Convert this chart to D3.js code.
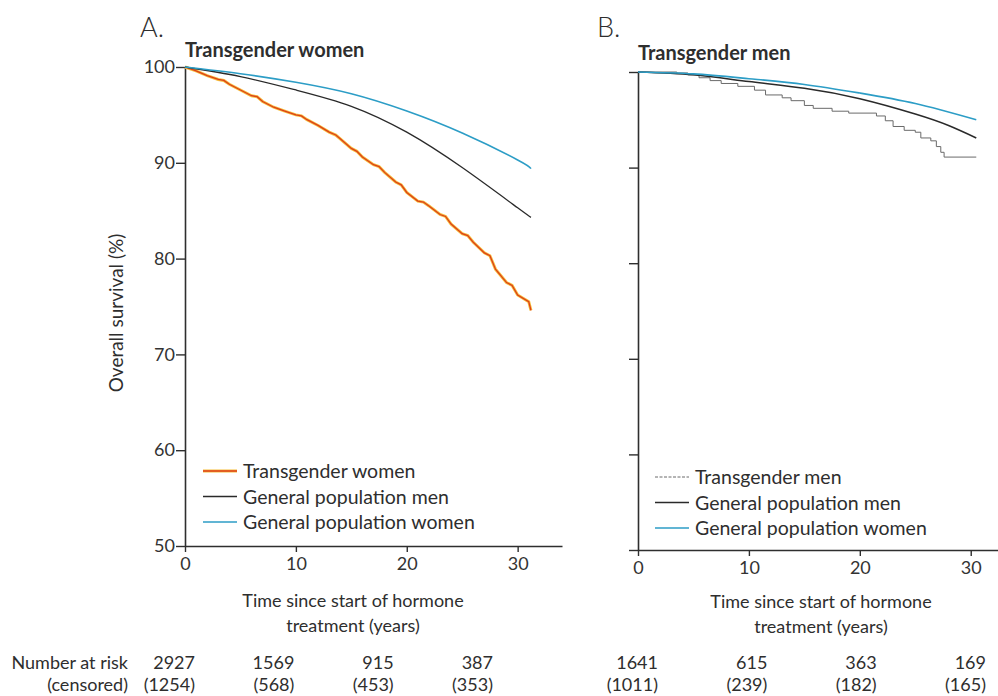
<!DOCTYPE html>
<html>
<head>
<meta charset="utf-8">
<script src="https://cdn.jsdelivr.net/npm/d3@7"></script>
<style>
  body { margin: 0; background: #fff; }
  svg { display: block; font-family: Lato, "Open Sans", sans-serif; }
</style>
</head>
<body>
<svg id="chart" width="998" height="696"></svg>
<script>
var xTicks = [0, 10, 20, 30];
var yTicks = [50, 60, 70, 80, 90, 100];

// panel A: overall survival (%) by years since start of hormone treatment
var transWomen = [[0, 100], [1, 99.6], [2, 99.1], [3, 98.7], [3.5, 98.6], [4, 98.2], [5, 97.6],
  [6, 97.0], [6.5, 96.9], [7, 96.4], [8, 95.8], [9, 95.4], [10, 95.0], [10.5, 94.9], [11, 94.5],
  [12, 93.9], [13, 93.2], [13.6, 92.9], [14, 92.5], [15, 91.5], [15.5, 91.2], [16, 90.6],
  [17, 89.8], [17.5, 89.6], [18, 89.0], [19, 88.0], [19.5, 87.7], [20, 86.9], [21, 86.0],
  [21.5, 85.9], [22, 85.5], [23, 84.6], [23.5, 84.4], [24, 83.6], [25, 82.6], [25.5, 82.4],
  [26, 81.7], [27, 80.6], [27.5, 80.3], [28, 78.9], [29, 77.5], [29.5, 77.2], [30, 76.2],
  [31, 75.5], [31.2, 74.6]];
var genMenA = [[0, 100], [5, 99.0], [10, 97.6], [15, 95.9], [20, 93.2], [25, 89.5], [30, 85.3],
  [31.2, 84.3]];
var genWomenA = [[0, 100], [5, 99.3], [10, 98.4], [15, 97.2], [20, 95.4], [25, 93.1], [30, 90.3],
  [31.2, 89.4]];

// panel B
var transMen = [[0, 100], [3.5, 99.9], [4.5, 99.7], [5.5, 99.4], [6.5, 99.1], [7.5, 98.8],
  [9, 98.5], [10.5, 98.1], [11.5, 97.6], [13, 97.3], [13.8, 97.0], [15, 96.5], [15.8, 96.2],
  [17.5, 95.9], [19, 95.7], [21.5, 95.4], [22.3, 94.9], [23, 94.3], [24, 93.9], [25, 93.7],
  [25.5, 93.1], [26.4, 92.8], [26.9, 92.2], [27.3, 91.6], [27.6, 91.1], [30.5, 91.1]];
var genMenB = [[0, 100], [5, 99.7], [10, 99.0], [15, 98.3], [20, 97.2], [25, 95.6], [28, 94.4],
  [30.5, 93.1]];
var genWomenB = [[0, 100], [5, 99.8], [10, 99.3], [15, 98.7], [20, 97.8], [25, 96.7],
  [30.5, 95.0]];

var riskA = [2927, 1569, 915, 387];
var censoredA = [1254, 568, 453, 353];
var riskB = [1641, 615, 363, 169];
var censoredB = [1011, 239, 182, 165];

var legendA = ['Transgender women', 'General population men', 'General population women'];
var legendB = ['Transgender men', 'General population men', 'General population women'];

var ink = '#2e2e2e';
var svg = d3.select('#chart');

function panel(p) {
  var x = d3.scaleLinear().domain([0, p.xMax]).range([p.left, p.right]);
  var y = d3.scaleLinear().domain([50, 100]).range([p.bottom, p.top]);
  var g = svg.append('g');

  // panel letter and title
  g.append('text').attr('x', p.letterX).attr('y', 37)
    .attr('font-size', 27).attr('font-weight', 300).attr('fill', ink).text(p.letter);
  g.append('text').attr('x', p.left).attr('y', p.titleY)
    .attr('font-size', 20).attr('font-weight', 700).attr('fill', ink).text(p.title);

  // axes
  var yAxis = d3.axisLeft(y).tickValues(yTicks).tickSize(9).tickPadding(1).tickSizeOuter(0);
  if (!p.yLabels) yAxis.tickFormat('');
  var ya = g.append('g').attr('transform', 'translate(' + p.left + ',0)').call(yAxis);

  var xAxis = d3.axisBottom(x).tickValues(xTicks).tickSize(6).tickPadding(5).tickSizeOuter(0);
  var xa = g.append('g').attr('transform', 'translate(0,' + p.bottom + ')').call(xAxis);

  [ya, xa].forEach(function(a) {
    a.select('.domain').attr('stroke', ink).attr('stroke-width', 1.6);
    a.selectAll('.tick line').attr('stroke', ink).attr('stroke-width', 1.4);
    a.selectAll('.tick text').attr('font-size', 18).attr('fill', '#333')
      .attr('font-family', 'Lato, "Open Sans", sans-serif');
  });

  // survival curves
  p.series.forEach(function(s) {
    var line = d3.line()
      .x(function(d) { return x(d[0]); })
      .y(function(d) { return y(d[1]); })
      .curve(s.step ? d3.curveStepAfter : (s.smooth ? d3.curveNatural : d3.curveLinear));
    if (s.halo) {
      g.append('path').datum(s.data).attr('d', line).attr('fill', 'none')
        .attr('stroke', s.halo).attr('stroke-width', 3);
    }
    g.append('path').datum(s.data).attr('d', line).attr('fill', 'none')
      .attr('stroke', s.color).attr('stroke-width', s.width);
  });

  // legend
  var lg = g.append('g').selectAll('g').data(p.series).enter().append('g')
    .attr('transform', function(d, i) { return 'translate(' + p.legendX + ',' + (p.legendY + i * 25.5) + ')'; });
  lg.filter(function(d) { return d.halo; }).append('line')
    .attr('x1', 0).attr('x2', 34).attr('stroke', function(d) { return d.halo; }).attr('stroke-width', 3);
  lg.append('line').attr('x1', 0).attr('x2', 34)
    .attr('stroke', function(d) { return d.color; })
    .attr('stroke-width', function(d) { return d.width; })
    .attr('stroke-dasharray', function(d) { return d.step ? '3,1.5' : null; });
  lg.append('text').attr('x', 40).attr('y', 7)
    .attr('font-size', 19.5).attr('fill', ink)
    .text(function(d, i) { return p.legend[i]; });

  // x axis title
  var xt = g.append('text').attr('text-anchor', 'middle').attr('font-size', 18).attr('fill', ink);
  xt.append('tspan').attr('x', p.xTitleX).attr('y', p.xTitleY).text('Time since start of hormone');
  xt.append('tspan').attr('x', p.xTitleX).attr('y', p.xTitleY + 25).text('treatment (years)');

  // number at risk table
  var rx = d3.scalePoint().domain(d3.range(p.risk.length)).range(p.riskRange);
  g.selectAll('.risk').data(p.risk).enter().append('text')
    .attr('x', function(d, i) { return rx(i); }).attr('y', 669)
    .attr('text-anchor', 'end').attr('font-size', 18).attr('fill', ink)
    .text(function(d) { return d; });
  g.selectAll('.cens').data(p.censored).enter().append('text')
    .attr('x', function(d, i) { return rx(i); }).attr('y', 691)
    .attr('text-anchor', 'end').attr('font-size', 18).attr('fill', ink)
    .text(function(d) { return '(' + d + ')'; });
}

panel({
  letter: 'A.', letterX: 140, title: 'Transgender women', titleY: 57,
  left: 185, right: 562, xMax: 34, top: 67, bottom: 546, yLabels: true,
  series: [
    { data: transWomen, color: '#dc3f1a', halo: '#f6bd3a', width: 1.3 },
    { data: genMenA, color: '#2a2a2a', width: 1.3, smooth: true },
    { data: genWomenA, color: '#2c9dc6', width: 1.6, smooth: true }
  ],
  legend: legendA, legendX: 203, legendY: 471,
  xTitleX: 353, xTitleY: 607,
  risk: riskA, censored: censoredA, riskRange: [195, 493]
});

panel({
  letter: 'B.', letterX: 597, title: 'Transgender men', titleY: 60,
  left: 638, right: 1004, xMax: 33, top: 72, bottom: 550, yLabels: false,
  series: [
    { data: transMen, color: '#6a6a6a', width: 1, step: true },
    { data: genMenB, color: '#2a2a2a', width: 1.5, smooth: true },
    { data: genWomenB, color: '#2c9dc6', width: 1.6, smooth: true }
  ],
  legend: legendB, legendX: 655, legendY: 477,
  xTitleX: 821, xTitleY: 608,
  risk: riskB, censored: censoredB, riskRange: [658, 986]
});

// y axis label (panel A only)
svg.append('text')
  .attr('transform', 'translate(123,313) rotate(-90)')
  .attr('text-anchor', 'middle').attr('font-size', 19).attr('fill', ink)
  .text('Overall survival (%)');

// row labels of the risk table
svg.append('text').attr('x', 128).attr('y', 669).attr('text-anchor', 'end')
  .attr('font-size', 18).attr('fill', ink).text('Number at risk');
svg.append('text').attr('x', 128).attr('y', 691).attr('text-anchor', 'end')
  .attr('font-size', 18).attr('fill', ink).text('(censored)');
</script>
</body>
</html>
